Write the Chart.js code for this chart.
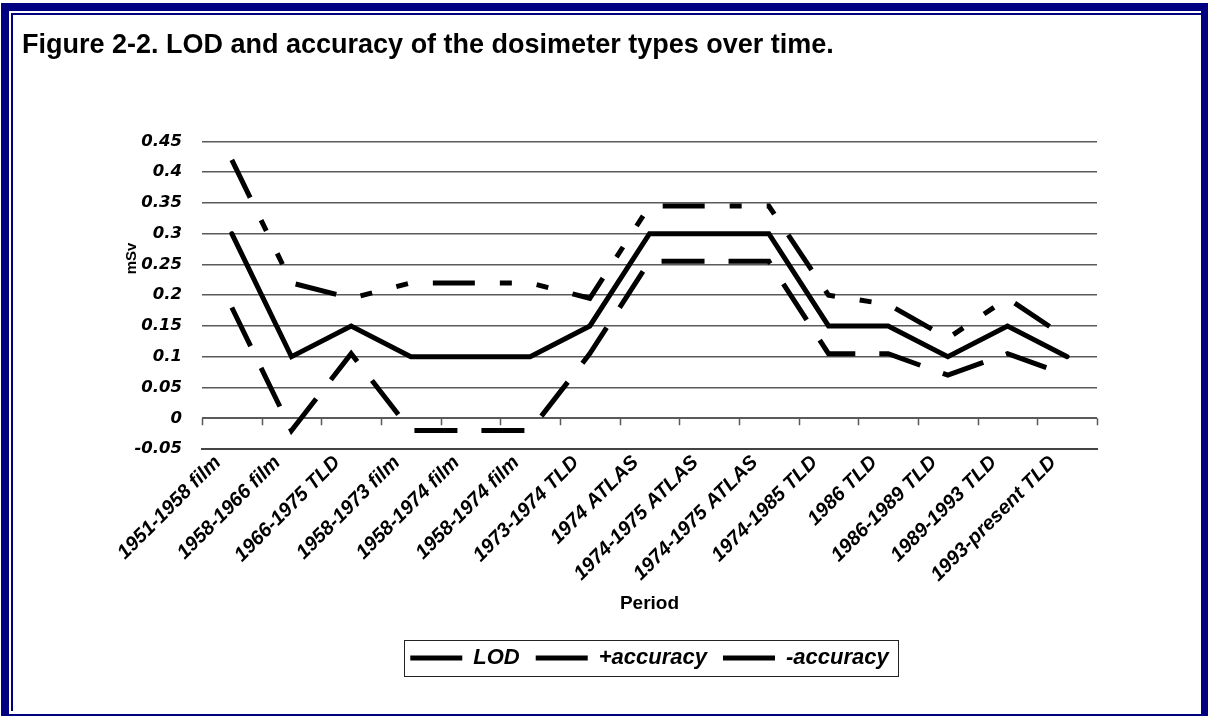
<!DOCTYPE html>
<html>
<head>
<meta charset="utf-8">
<script src="https://cdn.jsdelivr.net/npm/chart.js@4/dist/chart.umd.min.js"></script>
<style>
  html, body { margin: 0; padding: 0; background: #fff; }
  #wrap { position: relative; width: 1208px; height: 716px; overflow: hidden; }
  #chart { position: absolute; left: 0; top: 0; }
  .frame { position: absolute; pointer-events: none; box-sizing: border-box; }
  #outer { left: 1px; top: 3px; width: 1207px; height: 716px; border: solid #000080; border-width: 8px 7px 5px 8px; }
  #inner { left: 11px; top: 13px; width: 1190px; height: 698px; border: solid #000080; border-width: 2px 0 0 2px; }
</style>
</head>
<body>
<div id="wrap">
  <canvas id="chart" width="1208" height="716"></canvas>
  <div class="frame" id="outer"></div>
  <div class="frame" id="inner"></div>
</div>
<script>
// data
const categories = [
  "1951-1958 film", "1958-1966 film", "1966-1975 TLD", "1958-1973 film",
  "1958-1974 film", "1958-1974 film", "1973-1974 TLD", "1974 ATLAS",
  "1974-1975 ATLAS", "1974-1975 ATLAS", "1974-1985 TLD", "1986 TLD",
  "1986-1989 TLD", "1989-1993 TLD", "1993-present TLD"
];
const lod = [0.3, 0.1, 0.15, 0.1, 0.1, 0.1, 0.15, 0.3, 0.3, 0.3, 0.15, 0.15, 0.1, 0.15, 0.1];
const plusAccuracy = [0.42, 0.22, 0.195, 0.22, 0.22, 0.22, 0.195, 0.345, 0.345, 0.345, 0.2, 0.185, 0.13, 0.195, 0.13];
const minusAccuracy = [0.18, -0.02, 0.105, -0.02, -0.02, -0.02, 0.105, 0.255, 0.255, 0.255, 0.105, 0.105, 0.07, 0.105, 0.07];
const yMin = -0.05;
const yMax = 0.45;
const yStep = 0.05;

const titleText = "Figure 2-2. LOD and accuracy of the dosimeter types over time.";
const tickFont = "'DejaVu Sans', sans-serif";
const arialFont = "'Liberation Sans', Arial, sans-serif";
const gridGray = "#5a5a5a";

// zero line with tick marks between categories (Excel style)
const zeroAxis = {
  id: "zeroAxis",
  beforeDatasetsDraw(chart) {
    const { ctx, chartArea, scales } = chart;
    const y0 = scales.y.getPixelForValue(0);
    const step = (chartArea.right - chartArea.left) / categories.length;
    ctx.save();
    ctx.strokeStyle = gridGray;
    ctx.lineWidth = 1.5;
    ctx.beginPath();
    ctx.moveTo(chartArea.left, y0);
    ctx.lineTo(chartArea.right, y0);
    for (let i = 0; i <= categories.length; i++) {
      const px = Math.round(chartArea.left + i * step) + 0.5;
      ctx.moveTo(px, y0);
      ctx.lineTo(px, y0 + 7);
    }
    ctx.stroke();
    ctx.restore();
  }
};

// y axis title sits higher than the axis middle in the original
const yTitle = {
  id: "yTitle",
  afterDraw(chart) {
    const { ctx, chartArea } = chart;
    ctx.save();
    ctx.translate(chartArea.left - 70, chartArea.top + 117);
    ctx.rotate(-Math.PI / 2);
    ctx.font = "bold 15px " + arialFont;
    ctx.fillStyle = "#000";
    ctx.textAlign = "center";
    ctx.textBaseline = "middle";
    ctx.fillText("mSv", 0, 0);
    ctx.restore();
  }
};

// thin box round the legend
const legendBox = {
  id: "legendBox",
  afterDraw(chart) {
    const lg = chart.legend;
    const hb = lg.legendHitBoxes;
    if (!hb || !hb.length) return;
    const last = hb[hb.length - 1];
    const cy = hb[0].top + hb[0].height / 2;
    const ctx = chart.ctx;
    ctx.save();
    ctx.strokeStyle = "#222";
    ctx.lineWidth = 1;
    ctx.strokeRect(Math.round(hb[0].left - 6) + 0.5, Math.round(cy - 18) + 0.5,
      Math.round(last.left + last.width + 10 - (hb[0].left - 6)), 36);
    ctx.restore();
  }
};

const ctx = document.getElementById("chart").getContext("2d");
const chart = new Chart(ctx, {
  type: "line",
  data: {
    labels: categories,
    datasets: [
      {
        label: "LOD",
        data: lod,
        borderColor: "#000",
        backgroundColor: "#000",
        borderWidth: 5,
        borderCapStyle: "round",
        pointRadius: 0,
        tension: 0,
      },
      {
        label: "+accuracy",
        data: plusAccuracy,
        borderColor: "#000",
        backgroundColor: "#000",
        borderWidth: 5,
        borderDash: [42, 25, 12, 25, 12, 25],
        pointRadius: 0,
        tension: 0,
      },
      {
        label: "-accuracy",
        data: minusAccuracy,
        borderColor: "#000",
        backgroundColor: "#000",
        borderWidth: 5,
        borderDash: [43, 24],
        pointRadius: 0,
        tension: 0,
      },
    ],
  },
  options: {
    responsive: false,
    animation: false,
    layout: { padding: { left: 22, right: 111, top: 0, bottom: 37 } },
    plugins: {
      title: {
        display: true,
        text: titleText,
        align: "start",
        color: "#000",
        font: { family: arialFont, size: 27, weight: "bold" },
        padding: { top: 29, bottom: 80 },
      },
      legend: {
        position: "bottom",
        fullSize: false,
        labels: {
          usePointStyle: true,
          pointStyle: "line",
          pointStyleWidth: 52,
          padding: 16,
          color: "#000",
          font: { family: arialFont, size: 22, style: "italic", weight: "bold" },
        },
      },
      tooltip: { enabled: false },
    },
    scales: {
      x: {
        offset: true,
        grid: { display: false, drawTicks: false },
        border: { display: true, color: "#444", width: 2 },
        ticks: {
          autoSkip: false,
          minRotation: 45,
          maxRotation: 45,
          padding: 2,
          labelOffset: -14,
          color: "#000",
          font: { family: arialFont, size: 20, style: "italic", weight: "bold" },
        },
        title: {
          display: true,
          text: "Period",
          color: "#000",
          font: { family: arialFont, size: 19, weight: "bold" },
          padding: { top: 2, bottom: 16 },
        },
        afterFit(scale) {
          scale.height = 182;
        },
      },
      y: {
        min: yMin,
        max: yMax,
        border: { display: false },
        grid: {
          color: gridGray,
          lineWidth: 1.5,
          drawTicks: false,
        },
        ticks: {
          stepSize: yStep,
          padding: 20,
          color: "#000",
          font: { family: tickFont, size: 16.5, style: "italic", weight: "bold" },
          callback: (v) => String(parseFloat(Number(v).toFixed(2))),
        },
        afterFit(scale) {
          scale.width = 180;
        },
      },
    },
  },
  plugins: [zeroAxis, yTitle, legendBox],
});
</script>
</body>
</html>
